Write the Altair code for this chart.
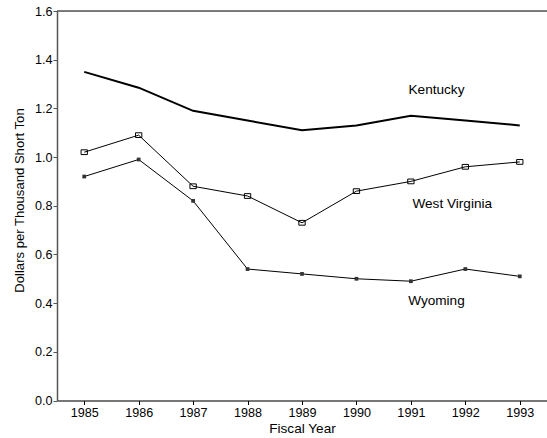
import altair as alt
import pandas as pd

years = [1985, 1986, 1987, 1988, 1989, 1990, 1991, 1992, 1993]
kentucky = [1.35, 1.285, 1.19, 1.15, 1.11, 1.13, 1.17, 1.15, 1.13]
west_virginia = [1.02, 1.09, 0.88, 0.84, 0.73, 0.86, 0.90, 0.96, 0.98]
wyoming = [0.92, 0.99, 0.82, 0.54, 0.52, 0.50, 0.49, 0.54, 0.51]

label_names = ["Kentucky", "West Virginia", "Wyoming"]
label_x = [1991.47, 1991.76, 1991.47]
label_y = [1.276, 0.808, 0.407]

FONT = "Liberation Sans"

df = pd.DataFrame({
    "year": years * 3,
    "value": kentucky + west_virginia + wyoming,
    "state": ["Kentucky"] * 9 + ["West Virginia"] * 9 + ["Wyoming"] * 9,
})
labels = pd.DataFrame({"name": label_names, "x": label_x, "y": label_y})

x_scale = alt.Scale(domain=[1984.5, 1993.5], nice=False, zero=False)
y_scale = alt.Scale(domain=[0, 1.6], nice=False)

x_enc = alt.X(
    "year:Q", scale=x_scale,
    axis=alt.Axis(
        title="Fiscal Year", values=years, format="d", grid=False,
        domainColor="#000000", domainWidth=1, tickColor="#000000", tickSize=4,
        labelFont=FONT, labelFontSize=12.6, labelColor="#000000", labelPadding=2,
        titleFont=FONT, titleFontSize=13.6, titleFontWeight="normal",
        titleColor="#000000", titlePadding=2,
    ),
)
y_enc = alt.Y(
    "value:Q", scale=y_scale,
    axis=alt.Axis(
        title="Dollars per Thousand Short Ton", values=[0, 0.2, 0.4, 0.6, 0.8, 1.0, 1.2, 1.4, 1.6],
        format=".1f", grid=False,
        domainColor="#555555", domainWidth=1.5, tickColor="#555555", tickSize=4,
        labelFont=FONT, labelFontSize=12.6, labelColor="#000000", labelPadding=1,
        titleFont=FONT, titleFontSize=13.1, titleFontWeight="normal",
        titleColor="#000000", titlePadding=8, titleY=189,
    ),
)

base = alt.Chart(df)

ky_line = base.transform_filter(alt.datum.state == "Kentucky").mark_line(
    color="#000000", strokeWidth=2
).encode(x=x_enc, y=y_enc)

wv_line = base.transform_filter(alt.datum.state == "West Virginia").mark_line(
    color="#000000", strokeWidth=1
).encode(x="year:Q", y="value:Q")

wv_pts = base.transform_filter(alt.datum.state == "West Virginia").mark_point(
    shape="M-1,-0.75L1,-0.75L1,0.75L-1,0.75Z", size=40, filled=False,
    stroke="#000000", strokeWidth=1, opacity=1
).encode(x="year:Q", y="value:Q")

wy_line = base.transform_filter(alt.datum.state == "Wyoming").mark_line(
    color="#000000", strokeWidth=1
).encode(x="year:Q", y="value:Q")

wy_pts = base.transform_filter(alt.datum.state == "Wyoming").mark_point(
    shape="square", size=14, filled=True, color="#333333", opacity=1
).encode(x="year:Q", y="value:Q")

text = alt.Chart(labels).mark_text(
    font=FONT, fontSize=13.6, color="#000000", align="center", baseline="middle"
).encode(x="x:Q", y="y:Q", text="name:N")

top_border = alt.Chart(pd.DataFrame({"v": [1.6]})).mark_rule(
    color="#555555", strokeWidth=1.5
).encode(y="v:Q", x=alt.value(0), x2=alt.value(490))

chart = alt.layer(
    ky_line, wv_line, wv_pts, wy_line, wy_pts, text, top_border
).properties(
    width=490, height=389.5,
    autosize=alt.AutoSizeParams(type="none"),
    padding={"left": 57, "top": 11, "right": 0, "bottom": 37.5},
).configure_view(stroke=None).configure(background="#ffffff")

chart.save("out.html", embed_options={"renderer": "svg", "actions": False})
